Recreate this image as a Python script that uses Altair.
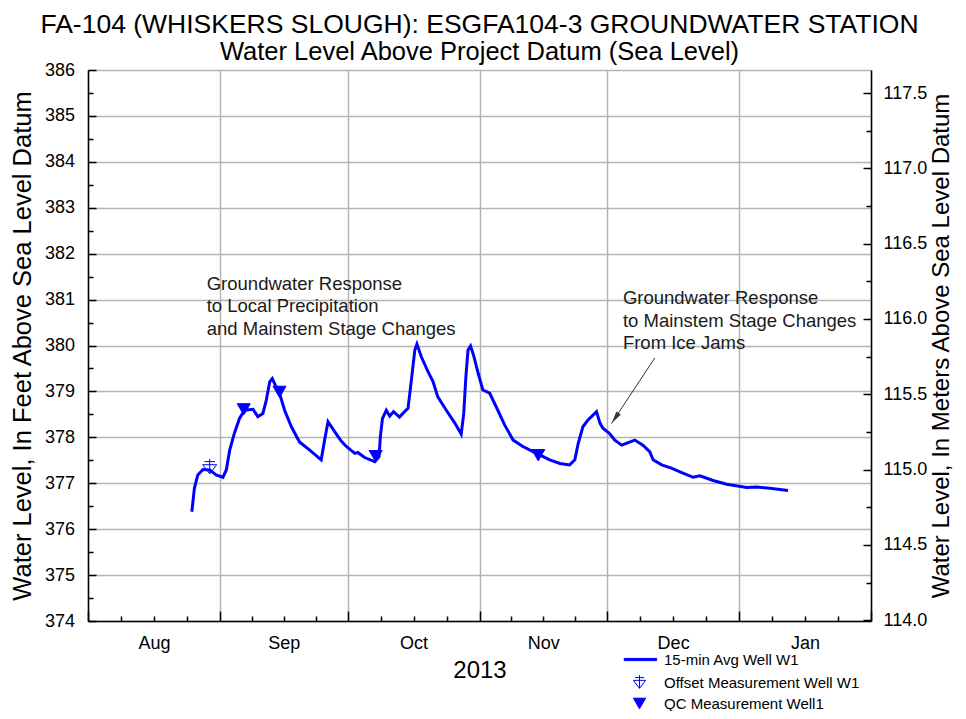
import altair as alt
import pandas as pd
from datetime import datetime, timedelta, timezone

FONT = "Liberation Sans"
BLUE = "#0000FF"
UTC = timezone.utc

# ---------------- data (days since 2013-08-01, feet) ----------------
line_days = [24.4, 25.0, 25.8, 27.0, 28.6, 30.1, 31.7, 32.5, 33.3, 34.4, 35.6, 36.8, 38.8, 39.9,
             41.1, 41.9, 42.7, 43.3, 44.0, 45.0, 46.2, 47.8, 49.7, 52.1, 54.8, 55.6, 56.4, 58.0,
             59.5, 60.7, 62.7, 63.4, 65.0, 67.4, 68.4, 68.7, 69.2, 70.1, 70.9, 71.8, 73.2, 74.4,
             75.2, 76.0, 76.8, 77.3, 78.3, 79.9, 81.1, 82.2, 84.2, 86.2, 87.7, 88.3, 88.8, 89.3,
             89.9, 90.6, 91.7, 92.8, 94.4, 96.0, 97.9, 99.9, 102.2, 105.4, 108.5, 110.9, 113.2,
             114.4, 115.2, 116.3, 117.5, 119.1, 119.5, 120.3, 121.0, 122.5, 123.8, 125.4, 126.5,
             128.5, 130.4, 132.0, 132.8, 134.8, 137.1, 139.1, 142.2, 143.8, 146.9, 150.1, 154.8,
             157.1, 160.2, 164.5]
line_ft = [376.38, 376.89, 377.18, 377.30, 377.29, 377.18, 377.13, 377.29, 377.72, 378.09, 378.41,
           378.59, 378.61, 378.45, 378.52, 378.81, 379.21, 379.28, 379.14, 378.96, 378.59, 378.23,
           377.90, 377.72, 377.51, 377.94, 378.34, 378.12, 377.92, 377.80, 377.65, 377.67, 377.56,
           377.47, 377.58, 378.01, 378.41, 378.59, 378.46, 378.56, 378.44, 378.56, 378.63, 379.25,
           379.90, 380.03, 379.76, 379.43, 379.21, 378.88, 378.59, 378.31, 378.07, 378.52, 379.32,
           379.90, 379.99, 379.79, 379.39, 379.03, 378.96, 378.65, 378.27, 377.94, 377.80, 377.65,
           377.51, 377.43, 377.40, 377.51, 377.87, 378.23, 378.38, 378.52, 378.56, 378.31, 378.20,
           378.09, 377.94, 377.83, 377.87, 377.94, 377.83, 377.69, 377.51, 377.40, 377.33, 377.25,
           377.13, 377.16, 377.06, 376.98, 376.91, 376.92, 376.89, 376.84]

offset_days = [28.6]
offset_ft = [377.35]

qc_days = [36.6, 45.0, 67.6, 105.8]
qc_ft = [378.61, 378.99, 377.59, 377.61]

series_names = ["15-min Avg Well W1", "Offset Measurement Well W1", "QC Measurement Well1"]

annot_days = [27.9, 125.7]
annot_ft = [381.54, 381.22]
annot_text = ["Groundwater Response\nto Local Precipitation\nand Mainstem Stage Changes",
              "Groundwater Response\nto Mainstem Stage Changes\nFrom Ice Jams"]

arrow_from_day, arrow_from_ft = 133.2, 379.73
arrow_tip_day, arrow_tip_ft = 123.0, 378.30
arrowhead_day, arrowhead_ft = 123.9, 378.42

month_starts = [datetime(2013, 8, 1, tzinfo=UTC), datetime(2013, 9, 1, tzinfo=UTC),
                datetime(2013, 10, 1, tzinfo=UTC), datetime(2013, 11, 1, tzinfo=UTC),
                datetime(2013, 12, 1, tzinfo=UTC), datetime(2014, 1, 1, tzinfo=UTC),
                datetime(2014, 2, 1, tzinfo=UTC)]
ft_ticks = [374 + 0.5 * i for i in range(25)]
m_ticks = [114.0 + 0.25 * i for i in range(15)]
FT_TO_M = 0.3048

BASE = month_starts[0]


def to_ms(dt):
    return int(dt.timestamp() * 1000)


def day_ms(d):
    return to_ms(BASE + timedelta(days=d))


x_values = []
for a, b in zip(month_starts[:-1], month_starts[1:]):
    step = (b - a) / 4
    for k in range(4):
        x_values.append(to_ms(a + step * k))
x_values.append(to_ms(month_starts[-1]))

line_df = pd.DataFrame({"date": [day_ms(d) for d in line_days], "ft": line_ft,
                        "series": series_names[0]})
line_df["m"] = line_df["ft"] * FT_TO_M
offset_df = pd.DataFrame({"date": [day_ms(d) for d in offset_days], "ft": offset_ft,
                          "series": series_names[1]})
qc_df = pd.DataFrame({"date": [day_ms(d) for d in qc_days], "ft": qc_ft,
                      "series": series_names[2]})
annot_df = pd.DataFrame({"date": [day_ms(d) for d in annot_days], "ft": annot_ft,
                         "label": annot_text})
arrow_df = pd.DataFrame({"date": [day_ms(arrow_from_day)], "ft": [arrow_from_ft],
                         "date2": [day_ms(arrow_tip_day)], "ft2": [arrow_tip_ft]})
head_df = pd.DataFrame({"date": [day_ms(arrowhead_day)], "ft": [arrowhead_ft]})

# ---------------- axes ----------------
major_x = "utcdate(datum.value) == 1 && utchours(datum.value) == 0"
mid_x = "utcdate(datum.value) == 16"
axis_x = alt.Axis(
    values=x_values, title="2013",
    labelExpr=f"({mid_x}) ? utcFormat(datum.value, '%b') : ''",
    labelOverlap=False, labelFlush=False, labelAngle=0,
    labelFont=FONT, labelFontSize=18, labelColor="black", labelPadding=18,
    tickSize={"condition": {"test": major_x, "value": -10}, "value": -5},
    tickColor="black", tickWidth=1.5,
    grid=True, gridColor="#b4b4b4", gridWidth=1.5,
    gridOpacity={"condition": {"test": major_x, "value": 1}, "value": 0},
    domainColor="black", domainWidth=1.5,
    titleFont=FONT, titleFontSize=24, titleFontWeight="normal", titleColor="black",
    titlePadding=6,
)

major_y = "datum.value % 1 == 0"
axis_left = alt.Axis(
    values=ft_ticks, orient="left", title="Water Level, In Feet Above Sea Level Datum",
    labelExpr=f"({major_y}) ? format(datum.value, 'd') : ''",
    labelOverlap=False, labelFlush=False,
    labelFont=FONT, labelFontSize=18, labelColor="black", labelPadding=21.5,
    tickSize={"condition": {"test": major_y, "value": -8}, "value": -5},
    tickColor="black", tickWidth=1.5,
    grid=True, gridColor="#b4b4b4", gridWidth=1.5,
    gridOpacity={"condition": {"test": major_y, "value": 1}, "value": 0},
    domainColor="black", domainWidth=1.5,
    titleFont=FONT, titleFontSize=25.5, titleFontWeight="normal", titleColor="black",
    titlePadding=9,
)

major_m = "abs(datum.value * 2 - round(datum.value * 2)) < 0.001"
axis_right = alt.Axis(
    values=m_ticks, orient="right", title="Water Level, In Meters Above Sea Level Datum",
    labelExpr=f"({major_m}) ? format(datum.value, '.1f') : ''",
    labelOverlap=False, labelFlush=False,
    labelFont=FONT, labelFontSize=18, labelColor="black", labelPadding=20,
    tickSize={"condition": {"test": major_m, "value": -8}, "value": -5},
    tickColor="black", tickWidth=1.5, grid=False,
    domainColor="black", domainWidth=1.5,
    titleFont=FONT, titleFontSize=24, titleFontWeight="normal", titleColor="black",
    titleAngle=270, titleBaseline="top", titlePadding=3,
)

x_enc = alt.X("date:T", scale=alt.Scale(type="utc", domain=[x_values[0], x_values[-1]]),
              axis=axis_x)
y_enc = alt.Y("ft:Q", scale=alt.Scale(domain=[374, 386], nice=False, zero=False), axis=axis_left)
y_m_enc = alt.Y("m:Q", scale=alt.Scale(domain=[374 * FT_TO_M, 386 * FT_TO_M], nice=False,
                                       zero=False), axis=axis_right)

# ---------------- legend ----------------
line_sym = "M-2.5,-0.18L2.8,-0.18L2.8,0.18L-2.5,0.18Z"
offset_sym = "M-1,-0.35L1,-0.35L0,0.95Z M-0.75,-0.8L0.75,-0.8 M0,-1.2L0,0.95"
legend = alt.Legend(orient="none", legendX=544, legendY=582, title=None, direction="vertical",
                    symbolSize=150, symbolStrokeWidth=1, symbolOpacity=1,
                    labelFont=FONT, labelFontSize=15, labelColor="black", labelOffset=17,
                    labelLimit=400, rowPadding=5, padding=0)
stroke_enc = alt.Stroke("series:N", scale=alt.Scale(domain=series_names, range=[BLUE] * 3),
                        legend=legend)
fill_enc = alt.Fill("series:N", scale=alt.Scale(domain=series_names,
                                                range=[BLUE, "transparent", BLUE]),
                    legend=legend)
shape_enc = alt.Shape("series:N", scale=alt.Scale(domain=series_names,
                                                  range=[line_sym, offset_sym, "triangle-down"]),
                      legend=legend)

# ---------------- layers ----------------
line = alt.Chart(line_df).mark_line(strokeWidth=3).encode(x=x_enc, y=y_enc, stroke=stroke_enc)
offset_pts = alt.Chart(offset_df).mark_point(size=196, opacity=1, strokeWidth=1).encode(
    x=x_enc, y=y_enc, stroke=stroke_enc, fill=fill_enc, shape=shape_enc)
qc_pts = alt.Chart(qc_df).mark_point(size=170, opacity=1, strokeWidth=1).encode(
    x=x_enc, y=y_enc, stroke=stroke_enc, fill=fill_enc, shape=shape_enc)
texts = alt.Chart(annot_df).mark_text(align="left", baseline="top", lineBreak="\n",
                                      font=FONT, fontSize=18.5, lineHeight=22.5,
                                      color="#1a1a1a").encode(x=x_enc, y=y_enc, text="label:N")
arrow = alt.Chart(arrow_df).mark_rule(color="#333333", strokeWidth=1).encode(
    x=x_enc, y=y_enc, x2="date2", y2="ft2")
head = alt.Chart(head_df).mark_point(shape="M0,-1L0.45,1L-0.45,1Z", size=144, angle=213.5,
                                     filled=True, color="#333333", opacity=1).encode(
    x=x_enc, y=y_enc)

ft_layers = alt.layer(line, offset_pts, qc_pts, texts, arrow, head)
m_layer = alt.Chart(line_df).mark_line(opacity=0).encode(x=x_enc, y=y_m_enc)

chart = alt.layer(ft_layers, m_layer).resolve_scale(y="independent").properties(
    width=783, height=551,
    padding={"left": 80, "top": 62, "right": 87, "bottom": 90},
    autosize=alt.AutoSizeParams(type="none"),
    title=alt.TitleParams(
        text="FA-104 (WHISKERS SLOUGH): ESGFA104-3 GROUNDWATER STATION",
        subtitle="Water Level Above Project Datum (Sea Level)",
        font=FONT, fontSize=26.5, fontWeight="normal", color="black",
        subtitleFont=FONT, subtitleFontSize=25.5, subtitleColor="black",
        anchor="middle", frame="group", offset=-4, subtitlePadding=1,
    ),
).configure_view(stroke="black", strokeWidth=1.5).configure(background="white")

chart.save("out.html", embed_options={"renderer": "svg", "actions": False})
